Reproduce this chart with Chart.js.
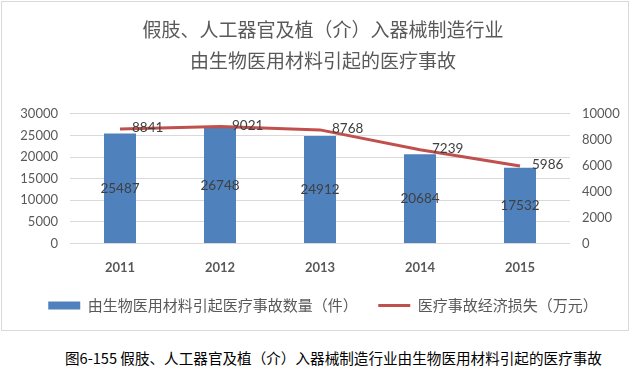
<!DOCTYPE html>
<html>
<head>
<meta charset="utf-8">
<script src="https://cdn.jsdelivr.net/npm/chart.js@4/dist/chart.umd.min.js"></script>
<style>
  body { margin: 0; background: #fff; }
  #frame { position: absolute; left: 1px; top: 1px; width: 626px; height: 328px; border: 1px solid #d9d9d9; }
  #caption { position: absolute; left: 65px; top: 347px; font: 14.6px "Noto Sans CJK SC", sans-serif; color: #000; white-space: nowrap; }
</style>
</head>
<body>
<div id="frame"><canvas id="myChart" width="626" height="328"></canvas></div>
<div id="caption">图6-155 假肢、人工器官及植（介）入器械制造行业由生物医用材料引起的医疗事故</div>
<script>
var years = ["2011", "2012", "2013", "2014", "2015"];
var accidentCount = [25487, 26748, 24912, 20684, 17532];
var economicLoss = [8841, 9021, 8768, 7239, 5986];
var countName = "由生物医用材料引起医疗事故数量（件）";
var lossName = "医疗事故经济损失（万元）";
var chartTitle = ["假肢、人工器官及植（介）入器械制造行业", "由生物医用材料引起的医疗事故"];

var numFont = "Lato, 'Noto Sans CJK SC', sans-serif";
var cjkFont = "'Noto Sans CJK SC', sans-serif";

// value labels, Excel style
var valueLabels = {
  id: "valueLabels",
  afterDatasetsDraw: function (chart) {
    var ctx = chart.ctx;
    ctx.save();
    ctx.font = "13.5px " + numFont;
    ctx.fillStyle = "#404040";
    ctx.textBaseline = "middle";
    var bars = chart.getDatasetMeta(0).data;
    ctx.textAlign = "center";
    bars.forEach(function (b, i) {
      ctx.fillText(accidentCount[i], b.x, (b.y + b.base) / 2);
    });
    var pts = chart.getDatasetMeta(1).data;
    ctx.textAlign = "left";
    pts.forEach(function (p, i) {
      ctx.fillText(economicLoss[i], p.x + 12, p.y - 1);
    });
    ctx.restore();
  }
};

function plain(v) { return String(v); }

var c = new Chart("myChart", {
  type: "bar",
  data: {
    labels: years,
    datasets: [{
      type: "bar",
      label: countName,
      data: accidentCount,
      backgroundColor: "#4f81bd",
      borderWidth: 0,
      yAxisID: "y",
      categoryPercentage: 0.8,
      barPercentage: 0.4,
      pointStyle: "rect",
      order: 2
    }, {
      type: "line",
      label: lossName,
      data: economicLoss,
      borderColor: "#c0504d",
      backgroundColor: "#c0504d",
      borderWidth: 3,
      pointRadius: 0,
      pointStyle: "line",
      tension: 0,
      yAxisID: "y1",
      order: 1
    }]
  },
  options: {
    responsive: false,
    animation: false,
    layout: { padding: { top: 0, bottom: 7, left: 16, right: 0 } },
    plugins: {
      title: {
        display: true,
        text: chartTitle,
        color: "#595959",
        font: { family: cjkFont, size: 19, weight: "normal", lineHeight: 1.63 },
        padding: { top: 12, bottom: 38 }
      },
      legend: {
        position: "bottom",
        labels: {
          usePointStyle: true,
          pointStyleWidth: 32,
          boxHeight: 8,
          color: "#595959",
          font: { family: cjkFont, size: 15 },
          padding: 13,
          sort: function (a, b) { return a.datasetIndex - b.datasetIndex; },
          generateLabels: function (chart) {
            var items = Chart.defaults.plugins.legend.labels.generateLabels(chart);
            // wider gap after the first entry
            items.forEach(function (it) { if (it.datasetIndex === 0) it.text += "\u3000"; });
            return items;
          }
        }
      },
      tooltip: { enabled: false }
    },
    scales: {
      x: {
        grid: { display: false },
        border: { display: false },
        ticks: { color: "#595959", font: { family: numFont, size: 13, weight: "bold" }, padding: 9 }
      },
      y: {
        position: "left",
        min: 0, max: 30000,
        ticks: { stepSize: 5000, callback: plain, color: "#595959", font: { family: numFont, size: 13 }, padding: 12 },
        grid: { color: "#d9d9d9", drawTicks: false },
        border: { display: false },
        afterFit: function (s) { s.width = 52; }
      },
      y1: {
        position: "right",
        min: 0, max: 10000,
        ticks: { stepSize: 2000, callback: plain, color: "#595959", font: { family: numFont, size: 13 }, padding: 12 },
        grid: { display: false, drawTicks: false },
        border: { display: false },
        afterFit: function (s) { s.width = 58; }
      }
    }
  },
  plugins: [valueLabels]
});
</script>
</body>
</html>
